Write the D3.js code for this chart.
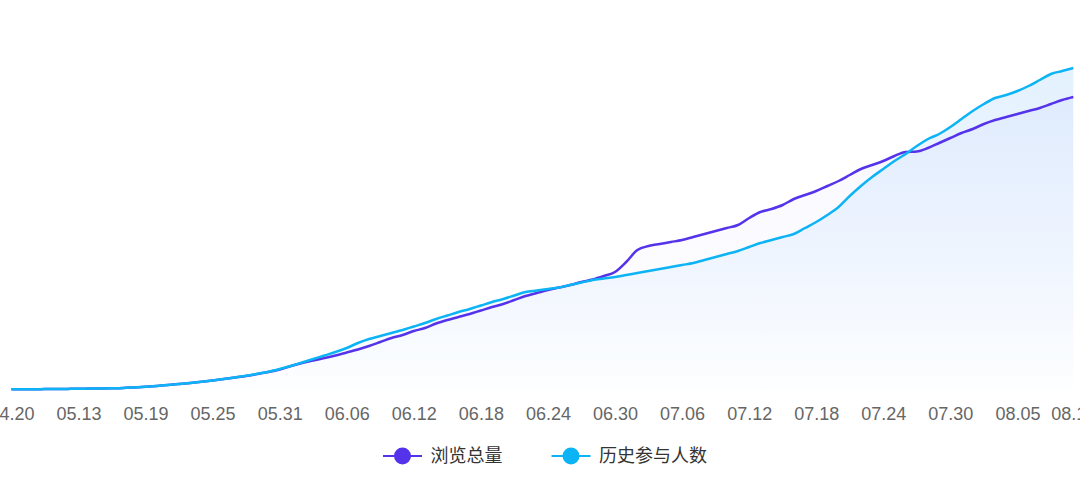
<html>
<head>
  <meta charset="utf-8">
  <script src="https://d3js.org/d3.v7.min.js"></script>
  <style>
    body {
      margin: 0;
      padding: 0;
      background: #ffffff;
      overflow: hidden;
    }
    svg {
      display: block;
    }
    .tick text {
      font-family: "Liberation Sans", Arial, sans-serif;
      font-size: 18px;
      fill: #666666;
    }
    .legend text {
      font-family: "Noto Sans CJK SC", sans-serif;
      font-size: 18px;
      fill: #333333;
    }
  </style>
</head>
<body>
  <svg width="1080" height="491"></svg>

  <script>
    // first day, then a daily run 05.08 - 08.10
    const fmt = d3.timeFormat("%m.%d");
    const categories = ["04.20"].concat(
      d3.timeDay.range(new Date(2023, 4, 8), new Date(2023, 7, 11)).map(fmt)
    );

    const tickLabels = ["04.20", "05.13", "05.19", "05.25", "05.31", "06.06", "06.12", "06.18",
      "06.24", "06.30", "07.06", "07.12", "07.18", "07.24", "07.30", "08.05", "08.10"];

    const seriesNames = ["浏览总量", "历史参与人数"];

    // 浏览总量
    const views = [
      0, 0, 1, 2, 3, 4, 5, 7, 8, 10,
      13, 19, 25, 33, 43, 53, 63, 75, 88, 103,
      118, 133, 153, 173, 198, 233, 263, 288, 313, 338,
      368, 398, 433, 473, 513, 543, 583, 613, 658, 693,
      723, 753, 788, 823, 853, 893, 933, 963, 993, 1018,
      1043, 1073, 1098, 1133, 1173, 1273, 1393, 1433, 1453, 1473,
      1493, 1523, 1553, 1583, 1613, 1643, 1713, 1773, 1803, 1843,
      1903, 1943, 1983, 2033, 2083, 2143, 2203, 2243, 2283, 2333,
      2373, 2378, 2413, 2463, 2513, 2563, 2603, 2653, 2693, 2723,
      2753, 2783, 2813, 2853, 2893, 2923
    ];

    // 历史参与人数
    const people = [
      0, 0, 1, 2, 3, 4, 5, 7, 8, 10,
      13, 19, 25, 33, 43, 53, 64, 76, 89, 104,
      119, 135, 155, 176, 203, 233, 268, 303, 338, 373,
      413, 463, 503, 533, 563, 593, 628, 663, 703, 738,
      773, 803, 838, 873, 903, 938, 973, 988, 1003, 1018,
      1043, 1068, 1093, 1108, 1123, 1143, 1163, 1183, 1203, 1223,
      1243, 1263, 1293, 1323, 1353, 1383, 1423, 1463, 1493, 1523,
      1553, 1613, 1673, 1743, 1823, 1933, 2033, 2123, 2203, 2283,
      2353, 2433, 2503, 2553, 2623, 2703, 2783, 2853, 2913, 2943,
      2983, 3033, 3093, 3153, 3183, 3213
    ];

    const colors = ["#5533ea", "#0cb4f5"];

    const svg = d3.select("svg");

    const x = d3.scalePoint()
        .domain(categories)
        .range([11.4, 1073.3]);

    const y = d3.scaleLinear()
        .domain([0, 3300])
        .range([389.3, 59.3]);

    // gradients for the areas
    const defs = svg.append("defs");

    const gradPurple = defs.append("linearGradient")
        .attr("id", "gradPurple")
        .attr("x1", 0).attr("y1", 0).attr("x2", 0).attr("y2", 1);
    gradPurple.append("stop").attr("offset", "0%").attr("stop-color", "rgba(120,90,240,0.05)");
    gradPurple.append("stop").attr("offset", "100%").attr("stop-color", "rgba(120,90,240,0.0)");

    const gradBlue = defs.append("linearGradient")
        .attr("id", "gradBlue")
        .attr("x1", 0).attr("y1", 0).attr("x2", 0).attr("y2", 1);
    gradBlue.append("stop").attr("offset", "0%").attr("stop-color", "rgba(40,150,250,0.13)");
    gradBlue.append("stop").attr("offset", "100%").attr("stop-color", "rgba(40,150,250,0.01)");

    const area = d3.area()
        .x((d, i) => x(categories[i]))
        .y0(y(0))
        .y1(d => y(d))
        .curve(d3.curveMonotoneX);

    const line = d3.line()
        .x((d, i) => x(categories[i]))
        .y(d => y(d))
        .curve(d3.curveMonotoneX);

    // areas
    svg.append("path")
        .datum(views)
        .attr("fill", "url(#gradPurple)")
        .attr("d", area);

    svg.append("path")
        .datum(people)
        .attr("fill", "url(#gradBlue)")
        .attr("d", area);

    // x axis
    const xAxis = d3.axisBottom(x)
        .tickValues(tickLabels)
        .tickSize(0)
        .tickPadding(18);

    svg.append("g")
        .attr("transform", "translate(0," + y(0) + ")")
        .call(xAxis)
        .call(g => g.select(".domain").remove());

    // lines
    svg.append("path")
        .datum(views)
        .attr("fill", "none")
        .attr("stroke", colors[0])
        .attr("stroke-width", 2.5)
        .attr("stroke-linejoin", "round")
        .attr("d", line);

    svg.append("path")
        .datum(people)
        .attr("fill", "none")
        .attr("stroke", colors[1])
        .attr("stroke-width", 2.5)
        .attr("stroke-linejoin", "round")
        .attr("d", line);

    // legend
    const legend = svg.append("g")
        .attr("class", "legend")
        .attr("transform", "translate(383,456)");

    const itemX = [0, 168.5];

    seriesNames.forEach((name, i) => {
      const item = legend.append("g")
          .attr("transform", "translate(" + itemX[i] + ",0)");

      item.append("line")
          .attr("x1", 0).attr("x2", 39)
          .attr("y1", 0).attr("y2", 0)
          .attr("stroke", colors[i])
          .attr("stroke-width", 2);

      item.append("circle")
          .attr("cx", 19.5)
          .attr("cy", 0)
          .attr("r", 8.5)
          .attr("fill", colors[i]);

      item.append("text")
          .attr("x", 47.5)
          .attr("y", 0)
          .attr("dy", "0.36em")
          .text(name);
    });
  </script>
</body>
</html>
